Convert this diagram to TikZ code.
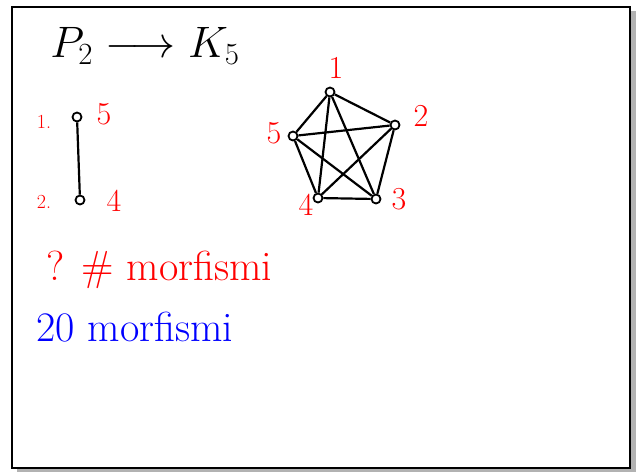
\documentclass[tikz,border=0pt]{standalone}
\usepackage{fix-cm}
\usepackage{tikz}
\usetikzlibrary{positioning, arrows.meta}
\begin{document}
\begin{tikzpicture}[
    x=1pt, y=-1pt,
    line width=2.2pt,
    vertex/.style={draw, circle, minimum size=9pt, inner sep=0pt, fill=white, line width=1.8pt},
    biglabel/.style={text=red, font=\fontsize{32}{36}\selectfont},
    smalllabel/.style={text=red, font=\fontsize{20}{24}\selectfont},
    note/.style={anchor=west, font=\fontsize{42}{48}\selectfont}
]
    \useasboundingbox (0,0) rectangle (639,472);

    % --- BOARD FRAME ---
    \fill[gray!60] (17,11) rectangle (636,472);
    \draw[fill=white, line width=1.5pt] (12,7) rectangle (630,468);

    % --- TITLE ---
    \node[font=\fontsize{44}{50}\selectfont] (title) at (145,46) {$P_2 \longrightarrow K_5$};

    % --- PATH P2 ---
    \node[vertex] (p1) at (77,117) {};
    \node[vertex] (p2) at (80,200) {};
    \draw (p1) -- (p2);

    % P2 labels
    \node[smalllabel] (p1name) at (44,122) {1.};
    \node[smalllabel] (p2name) at (44,202) {2.};
    \node[biglabel] (p1img) at (104,114) {5};
    \node[biglabel] (p2img) at (114,201) {4};

    % --- COMPLETE GRAPH K5 ---
    \node[vertex] (k1) at (330,92) {};
    \node[vertex] (k2) at (395,125) {};
    \node[vertex] (k3) at (376,199) {};
    \node[vertex] (k4) at (318,198) {};
    \node[vertex] (k5) at (293,136) {};

    % Outer edges
    \draw (k1) -- (k2);
    \draw (k2) -- (k3);
    \draw (k3) -- (k4);
    \draw (k4) -- (k5);
    \draw (k5) -- (k1);

    % Inner edges (star)
    \draw (k1) -- (k3);
    \draw (k1) -- (k4);
    \draw (k2) -- (k4);
    \draw (k2) -- (k5);
    \draw (k3) -- (k5);

    % K5 labels
    \node[biglabel] (k1name) at (336,68) {1};
    \node[biglabel] (k2name) at (421,116) {2};
    \node[biglabel] (k3name) at (399,199) {3};
    \node[biglabel] (k4name) at (306,205) {4};
    \node[biglabel] (k5name) at (274,133) {5};

    % --- QUESTION AND ANSWER ---
    \node[note, text=red] (question) at (42,270) {? \# morfismi};
    \node[note, text=blue] (answer) at (32,327) {20 morfismi};

\end{tikzpicture}
\end{document}
